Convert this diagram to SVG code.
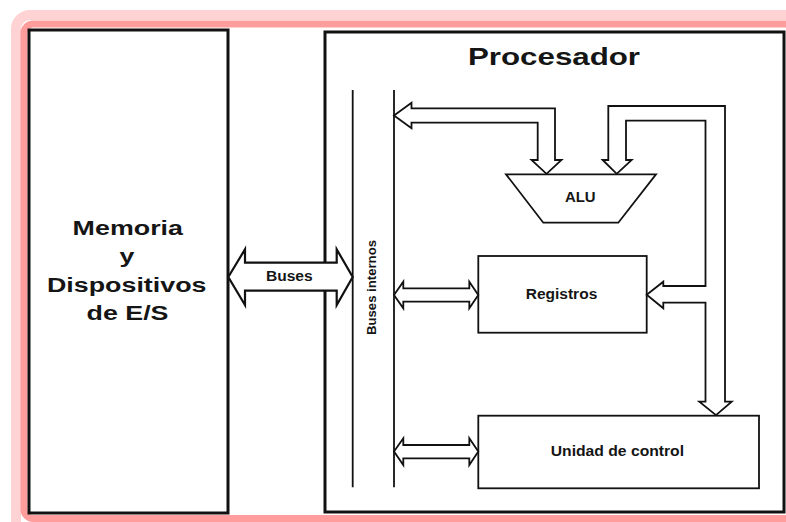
<svg xmlns="http://www.w3.org/2000/svg" width="786" height="522" viewBox="0 0 786 522">
  <style>
    .frame-glow { fill: none; stroke: #ffd3d3; stroke-width: 10; }
    .frame { fill: #ffffff; stroke: #ff9c9c; stroke-width: 7; }
    .box-heavy { fill: #ffffff; stroke: #111111; stroke-width: 3; }
    .box { fill: #ffffff; stroke: #111111; stroke-width: 1.8; }
    .bus-line { fill: none; stroke: #111111; stroke-width: 1.8; }
    .arrow { fill: #ffffff; stroke: #111111; stroke-width: 1.8; stroke-linejoin: miter; }
    .big-arrow { fill: #ffffff; stroke: #111111; stroke-width: 2.2; stroke-linejoin: miter; }
    text { font-family: "Liberation Sans", Arial, sans-serif; font-weight: bold; fill: #151515; text-anchor: middle; }
    .t-big { font-size: 20.5px; }
    .t-title { font-size: 23px; }
    .t-mid { font-size: 14px; }
    .t-small { font-size: 12.5px; }
  </style>

  <rect width="786" height="522" fill="#ffffff"/>

  <!-- pink page frame -->
  <rect class="frame-glow" x="16" y="15" width="800" height="520" rx="14"/>
  <rect class="frame" x="24" y="24" width="800" height="494.5" rx="9"/>

  <!-- memory and I/O block -->
  <g id="memoria">
    <rect class="box-heavy" x="29" y="30" width="199" height="483"/>
    <text class="t-big" transform="translate(127.8 235) scale(1.31 1)">Memoria</text>
    <text class="t-big" transform="translate(127 263) scale(1.31 1)">y</text>
    <text class="t-big" transform="translate(126.7 291.5) scale(1.31 1)">Dispositivos</text>
    <text class="t-big" transform="translate(127.5 319.5) scale(1.31 1)">de E/S</text>
  </g>

  <!-- processor enclosure -->
  <g id="procesador">
    <rect class="box-heavy" x="325" y="32" width="459" height="480"/>
    <text class="t-title" transform="translate(554 65) scale(1.36 1)">Procesador</text>
  </g>

  <!-- internal bus -->
  <g id="buses-internos">
    <line class="bus-line" x1="352.7" y1="90" x2="352.7" y2="487.3"/>
    <line class="bus-line" x1="394" y1="90" x2="394" y2="487.3"/>
    <text class="t-small" transform="translate(375.6 287.5) rotate(-90)" x="0" y="0" textLength="95" lengthAdjust="spacingAndGlyphs">Buses internos</text>
  </g>

  <!-- ALU -->
  <g id="alu">
    <polygon class="box" points="506,174.3 656,174.3 618.3,222.7 543.3,222.7"/>
    <text class="t-mid" x="580.3" y="202.3" textLength="30.7" lengthAdjust="spacingAndGlyphs">ALU</text>
  </g>

  <!-- register file -->
  <g id="registros">
    <rect class="box" x="478.3" y="256" width="168.4" height="76.7"/>
    <text class="t-mid" x="561.5" y="298.8" textLength="71.6" lengthAdjust="spacingAndGlyphs">Registros</text>
  </g>

  <!-- control unit -->
  <g id="unidad-control">
    <rect class="box" x="478.3" y="415.7" width="280.7" height="72.6"/>
    <text class="t-mid" x="617.4" y="455.5" textLength="133.3" lengthAdjust="spacingAndGlyphs">Unidad de control</text>
  </g>

  <!-- connectors -->
  <g id="conectores">
    <!-- external bus between memory and processor -->
    <g id="buses">
      <polygon class="big-arrow" points="228.3,277 245,249.3 245,262.7 336.7,262.7 336.7,249.3 352.7,277 336.7,305 336.7,290.7 245,290.7 245,305"/>
      <text class="t-mid" x="289.3" y="281.3" textLength="46.7" lengthAdjust="spacingAndGlyphs">Buses</text>
    </g>

    <!-- ALU result back onto the internal bus -->
    <polygon class="arrow" points="394,115.5 411.5,102.7 411.5,108.3 555,108.3 555,160 561.5,160 546.5,173.8 531.5,160 537.7,160 537.7,122.7 411.5,122.7 411.5,128.3"/>

    <!-- feedback path: ALU input, registers and control unit -->
    <polygon class="arrow" points="602.7,160 616.7,173.8 631.7,160 626,160 626,120.7 705.5,120.7 705.5,286 663.3,286 663.3,281.7 646.7,294.8 663.3,308.3 663.3,302.7 705.5,302.7 705.5,401.7 699.3,401.7 716,415.2 731.7,401.7 725,401.7 725,106 608.3,106 608.3,160"/>

    <!-- internal bus to registers -->
    <polygon class="arrow" points="394,295 403.3,281.7 403.3,288.3 469.3,288.3 469.3,281.7 478.3,295 469.3,308.3 469.3,301.7 403.3,301.7 403.3,308.3"/>

    <!-- internal bus to control unit -->
    <polygon class="arrow" points="394,451.6 403.3,438.3 403.3,445 469.3,445 469.3,438.3 478.3,451.6 469.3,465 469.3,458.3 403.3,458.3 403.3,465"/>
  </g>
</svg>
